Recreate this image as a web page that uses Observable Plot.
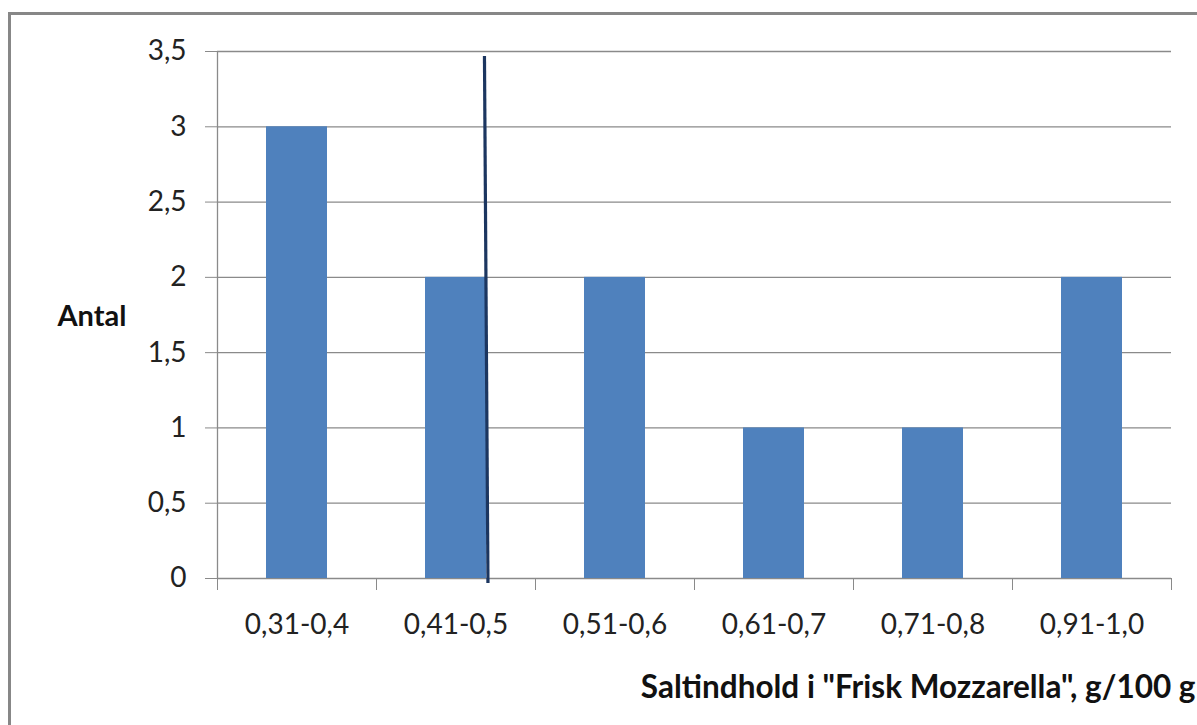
<!DOCTYPE html>
<html>
<head>
<meta charset="utf-8">
<script src="https://cdn.jsdelivr.net/npm/d3@7"></script>
<script src="https://cdn.jsdelivr.net/npm/@observablehq/plot@0.6"></script>
<style>
  html, body { margin: 0; padding: 0; background: #fff; overflow: hidden; }
  #frame { position: absolute; left: 8px; top: 12px; width: 1300px; height: 800px;
           border-left: 3px solid #878787; border-top: 3px solid #878787; box-sizing: border-box; }
  #chart { position: absolute; left: 0; top: 0; }
  svg { font-family: Lato, "Open Sans", sans-serif; }
</style>
</head>
<body>
<div id="frame"></div>
<div id="chart"></div>
<script>
// --- data ---
const categories = ["0,31-0,4", "0,41-0,5", "0,51-0,6", "0,61-0,7", "0,71-0,8", "0,91-1,0"];
const counts = [3, 2, 2, 1, 1, 2];
const yTicks = [0, 0.5, 1, 1.5, 2, 2.5, 3, 3.5];
// vertical marker line (in category-index units along x, count units along y)
const markerX = [1.679, 1.701];
const markerY = [3.47, -0.03];
const yLabel = "Antal";
const xLabel = "Saltindhold i \"Frisk Mozzarella\", g/100 g";

const data = categories.map((c, i) => ({cat: c, i, count: counts[i]}));
const marker = [{x1: markerX[0], y1: markerY[0], x2: markerX[1], y2: markerY[1]}];
const fmt = d => String(d).replace(".", ",");

const gridColor = "#8a8a8a";

const plot = Plot.plot({
  width: 1197,
  height: 725,
  marginLeft: 217,
  marginRight: 26,
  marginTop: 51,
  marginBottom: 147,
  x: {type: "linear", domain: [0, categories.length]},
  y: {domain: [0, 3.5]},
  style: {fontSize: "28px", color: "#222", background: "transparent"},
  marks: [
    Plot.ruleY(yTicks, {x1: 0, x2: categories.length, stroke: gridColor, strokeWidth: 1.3}),
    Plot.axisY({ticks: yTicks, tickFormat: fmt, tickSize: 12, tickPadding: 19, stroke: gridColor, strokeOpacity: 1, label: null, fontSize: 28}),
    Plot.ruleX([0], {y1: 0, y2: 3.5, stroke: gridColor, strokeWidth: 1.3}),
    Plot.axisX({ticks: d3.range(0, categories.length + 1), tickSize: 12, tickFormat: () => "", stroke: gridColor, strokeOpacity: 1, label: null}),
    Plot.rectY(data, {x1: "i", x2: d => d.i + 1, y: "count", fill: "#4F81BD", insetLeft: 49, insetRight: 49}),
    Plot.text(data, {x: d => d.i + 0.5, y: () => 0, text: "cat", dy: 47, fontSize: 28, fill: "#222"}),
    Plot.link(marker, {x1: "x1", y1: "y1", x2: "x2", y2: "y2", stroke: "#1c3660", strokeWidth: 3.2}),
    Plot.text([yLabel], {frameAnchor: "left", dx: -160, dy: 2, fontWeight: "bold", fontSize: 29, textAnchor: "start", fill: "#111"}),
    Plot.text([xLabel], {frameAnchor: "bottom-right", dx: 24, dy: 119, fontWeight: "bold", fontSize: 31.5, textAnchor: "end", fill: "#111"})
  ]
});
document.getElementById("chart").appendChild(plot);
</script>
</body>
</html>
